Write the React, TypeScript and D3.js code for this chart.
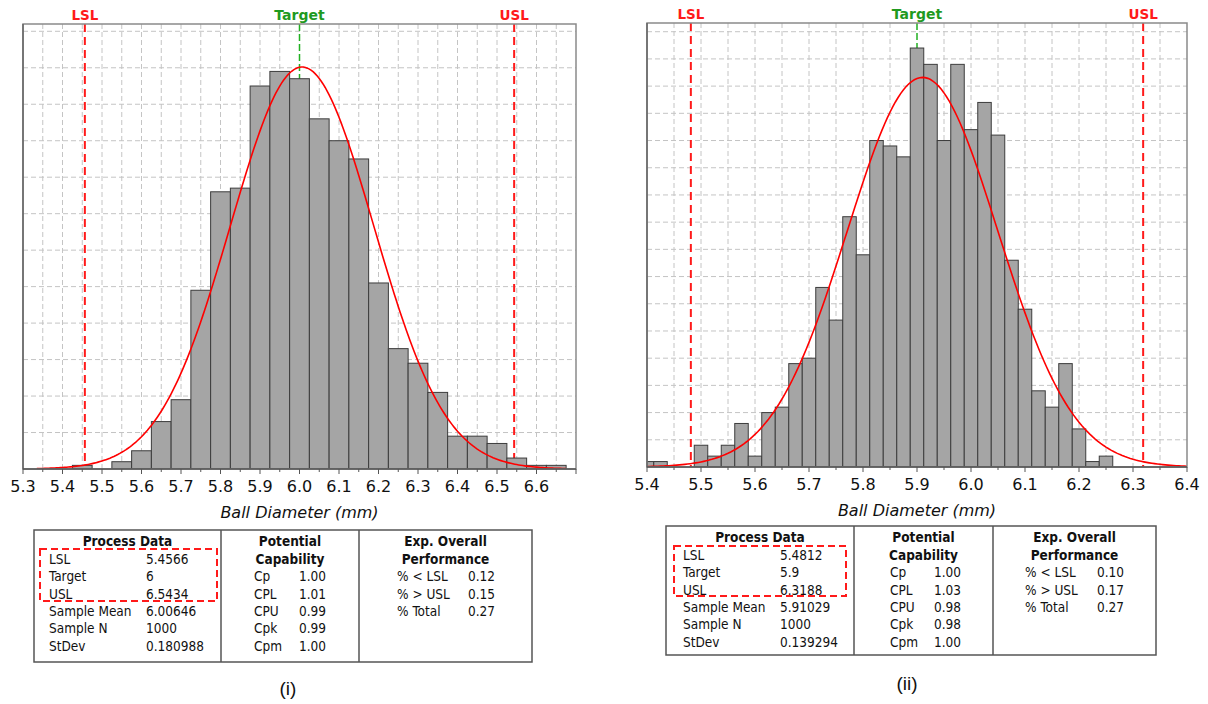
import React from 'react';
import * as d3 from 'd3';

const W = 1208;
const H = 704;
const FONT = "'DejaVu Sans', Verdana, sans-serif";
const COND = "'DejaVu Sans Condensed', 'DejaVu Sans', sans-serif";

// ---- chart (i) ----
const binStartI = 5.425;
const binWidthI = 0.05;
const countsI = [1, 0, 2, 5, 13, 19, 49, 76, 77, 105, 109, 107, 96, 90, 85, 51, 33, 29, 21, 9, 9, 7, 3, 1, 1];
const ticksI = [5.3, 5.4, 5.5, 5.6, 5.7, 5.8, 5.9, 6.0, 6.1, 6.2, 6.3, 6.4, 6.5, 6.6];
const specI = [5.4566, 6, 6.5434]; // LSL, Target, USL
const statsI = [6.00646, 0.180988, 1000]; // mean, stdev, N
const processI = [['LSL', '5.4566'], ['Target', '6'], ['USL', '6.5434'], ['Sample Mean', '6.00646'], ['Sample N', '1000'], ['StDev', '0.180988']];
const potentialI = [['Cp', '1.00'], ['CPL', '1.01'], ['CPU', '0.99'], ['Cpk', '0.99'], ['Cpm', '1.00']];
const overallI = [['% < LSL', '0.12'], ['% > USL', '0.15'], ['% Total', '0.27']];

// ---- chart (ii) ----
const binStartII = 5.3875;
const binWidthII = 0.025;
const countsII = [1, 1, 0, 0, 4, 2, 4, 8, 2, 10, 11, 19, 20, 33, 27, 46, 39, 60, 59, 57, 77, 74, 60, 74, 62, 67, 61, 38, 29, 14, 11, 19, 7, 1, 2];
const ticksII = [5.4, 5.5, 5.6, 5.7, 5.8, 5.9, 6.0, 6.1, 6.2, 6.3, 6.4];
const specII = [5.4812, 5.9, 6.3188];
const statsII = [5.91029, 0.139294, 1000];
const processII = [['LSL', '5.4812'], ['Target', '5.9'], ['USL', '6.3188'], ['Sample Mean', '5.91029'], ['Sample N', '1000'], ['StDev', '0.139294']];
const potentialII = [['Cp', '1.00'], ['CPL', '1.03'], ['CPU', '0.98'], ['Cpk', '0.98'], ['Cpm', '1.00']];
const overallII = [['% < LSL', '0.10'], ['% > USL', '0.17'], ['% Total', '0.27']];

const RED = '#ff1a1a';
const GREEN = '#1f9a1f';

function Histogram(p: any) {
  const { id, left, right, top, bottom, domain, yMax, yStep, binStart, binWidth, counts, ticks, spec, stats, curveRange } = p;
  const x = d3.scaleLinear().domain(domain).range([left, right]);
  const y = d3.scaleLinear().domain([0, yMax]).range([bottom, top]);
  const [mean, sd, n] = stats;
  const fmt = d3.format('.1f');

  // grid every 0.05, but leave the target position to the green line
  const vGrid = d3.range(domain[0] + 0.05, domain[1] - 0.001, 0.05).filter(v => Math.abs(v - spec[1]) > 0.001);
  const hGrid = d3.range(yStep, yMax, yStep);
  const minor = d3.range(domain[0], domain[1] + 0.001, 0.05);

  const pdf = (v: number) => (n * binWidth) / (sd * Math.sqrt(2 * Math.PI)) * Math.exp(-0.5 * ((v - mean) / sd) ** 2);
  const pts = d3.range(curveRange[0], curveRange[1] + 0.0005, 0.005).map(v => [x(v), y(pdf(v))] as [number, number]);
  const line = d3.line()(pts);

  const names = ['LSL', 'Target', 'USL'];

  return (
    <g>
      <defs>
        <clipPath id={id}>
          <rect x={left} y={top} width={right - left} height={bottom - top} />
        </clipPath>
      </defs>
      <rect x={left} y={top} width={right - left} height={bottom - top} fill="#fff" />
      {vGrid.map((v, i) => (
        <line key={'v' + i} x1={x(v)} x2={x(v)} y1={top} y2={bottom} stroke="#c4c4c4" strokeDasharray="5,3" />
      ))}
      {hGrid.map((v, i) => (
        <line key={'h' + i} x1={left} x2={right} y1={y(v)} y2={y(v)} stroke="#c4c4c4" strokeDasharray="5,3" />
      ))}
      {[spec[0], spec[2]].map((v, i) => (
        <line key={'s' + i} x1={x(v)} x2={x(v)} y1={top} y2={bottom} stroke={RED} strokeWidth={2} strokeDasharray="8,5" />
      ))}
      <line x1={x(spec[1])} x2={x(spec[1])} y1={top} y2={bottom} stroke="#22b022" strokeWidth={1.5} strokeDasharray="7,3" />
      <g clipPath={`url(#${id})`}>
        {counts.map((c: number, i: number) => {
          if (!c) return null;
          const x0 = x(binStart + i * binWidth);
          const x1 = x(binStart + (i + 1) * binWidth);
          return <rect key={i} x={x0} y={y(c)} width={x1 - x0} height={bottom - y(c)} fill="#a5a5a5" stroke="#3c3c3c" strokeWidth={1} />;
        })}
        <path d={line || ''} fill="none" stroke="#ff0000" strokeWidth={1.6} />
      </g>
      <rect x={left} y={top} width={right - left} height={bottom - top} fill="none" stroke="#8a8a8a" strokeWidth={1.5} />
      <line x1={left} x2={left} y1={top} y2={bottom} stroke="#666" strokeWidth={1.5} />
      <line x1={left} x2={right} y1={bottom} y2={bottom} stroke="#555" strokeWidth={1.5} />
      {minor.map((v, i) => (
        <line key={'t' + i} x1={x(v)} x2={x(v)} y1={bottom} y2={bottom + (i % 2 === 0 ? 5 : 3)} stroke="#555" />
      ))}
      {ticks.map((v: number) => (
        <text key={v} x={x(v)} y={bottom + 23} textAnchor="middle" fontFamily={FONT} fontSize={16} fill="#111">
          {fmt(v)}
        </text>
      ))}
      {spec.map((v: number, i: number) => (
        <text key={names[i]} x={x(v)} y={top - 4} textAnchor="middle" fontFamily={FONT} fontWeight="bold" fontSize={i === 1 ? 14 : 13.5} fill={i === 1 ? GREEN : RED}>
          {names[i]}
        </text>
      ))}
      <text x={(left + right) / 2} y={bottom + 49} textAnchor="middle" fontFamily={FONT} fontStyle="italic" fontSize={16} fill="#111">
        Ball Diameter (mm)
      </text>
    </g>
  );
}

function StatsTable(p: any) {
  const { x0, x1, y0, y1, d1, d2, process, potential, overall, col, caption, box } = p;
  const row = (k: number) => y0 + 11.5 + 17.4 * k + 4.8;
  const t = { fontFamily: COND, fontSize: 13.5, fill: '#111' };
  return (
    <g>
      <rect x={x0} y={y0} width={x1 - x0} height={y1 - y0} fill="#fff" stroke="#555" strokeWidth={1.5} />
      <line x1={d1} x2={d1} y1={y0} y2={y1} stroke="#555" strokeWidth={1.5} />
      <line x1={d2} x2={d2} y1={y0} y2={y1} stroke="#555" strokeWidth={1.5} />
      <text {...t} x={(x0 + d1) / 2} y={row(0)} textAnchor="middle" fontWeight="bold">Process Data</text>
      {process.map((r: string[], i: number) => (
        <g key={r[0]}>
          <text {...t} x={x0 + col[0]} y={row(i + 1)}>{r[0]}</text>
          <text {...t} x={x0 + col[1]} y={row(i + 1)}>{r[1]}</text>
        </g>
      ))}
      <rect x={box[0]} y={box[1]} width={box[2]} height={box[3]} fill="none" stroke={RED} strokeWidth={2} strokeDasharray="7,4" />
      <text {...t} x={(d1 + d2) / 2} y={row(0)} textAnchor="middle" fontWeight="bold">Potential</text>
      <text {...t} x={(d1 + d2) / 2} y={row(1)} textAnchor="middle" fontWeight="bold">Capability</text>
      {potential.map((r: string[], i: number) => (
        <g key={r[0]}>
          <text {...t} x={d1 + col[2]} y={row(i + 2)}>{r[0]}</text>
          <text {...t} x={d1 + col[3]} y={row(i + 2)}>{r[1]}</text>
        </g>
      ))}
      <text {...t} x={(d2 + x1) / 2} y={row(0)} textAnchor="middle" fontWeight="bold">Exp. Overall</text>
      <text {...t} x={(d2 + x1) / 2} y={row(1)} textAnchor="middle" fontWeight="bold">Performance</text>
      {overall.map((r: string[], i: number) => (
        <g key={r[0]}>
          <text {...t} x={d2 + col[4]} y={row(i + 2)}>{r[0]}</text>
          <text {...t} x={d2 + col[5]} y={row(i + 2)}>{r[1]}</text>
        </g>
      ))}
      <text x={caption[0]} y={caption[1]} textAnchor="middle" fontFamily="'Liberation Sans', Arial, sans-serif" fontSize={19} fill="#111">
        {caption[2]}
      </text>
    </g>
  );
}

export default function App() {
  return (
    <svg width={W} height={H} style={{ position: 'absolute', left: 0, top: 0, background: '#fff' }}>
      <Histogram
        id="clipI" left={23} right={576} top={24} bottom={469}
        domain={[5.3, 6.7]} yMax={122} yStep={10}
        binStart={binStartI} binWidth={binWidthI} counts={countsI}
        ticks={ticksI} spec={specI} stats={statsI} curveRange={[5.335, 6.675]}
      />
      <Histogram
        id="clipII" left={647} right={1187} top={23} bottom={467}
        domain={[5.4, 6.4]} yMax={81.6} yStep={5}
        binStart={binStartII} binWidth={binWidthII} counts={countsII}
        ticks={ticksII} spec={specII} stats={statsII} curveRange={[5.4, 6.4]}
      />
      <StatsTable
        x0={34} x1={532} y0={530} y1={662} d1={221} d2={359}
        process={processI} potential={potentialI} overall={overallI}
        col={[15, 112, 33, 78, 38, 109]} box={[40, 549, 177, 52]} caption={[288, 695, '(i)']}
      />
      <StatsTable
        x0={666} x1={1156} y0={526} y1={655} d1={854} d2={993}
        process={processII} potential={potentialII} overall={overallII}
        col={[17, 114, 36, 80, 32, 104]} box={[674, 546, 172, 50]} caption={[907, 690, '(ii)']}
      />
    </svg>
  );
}
